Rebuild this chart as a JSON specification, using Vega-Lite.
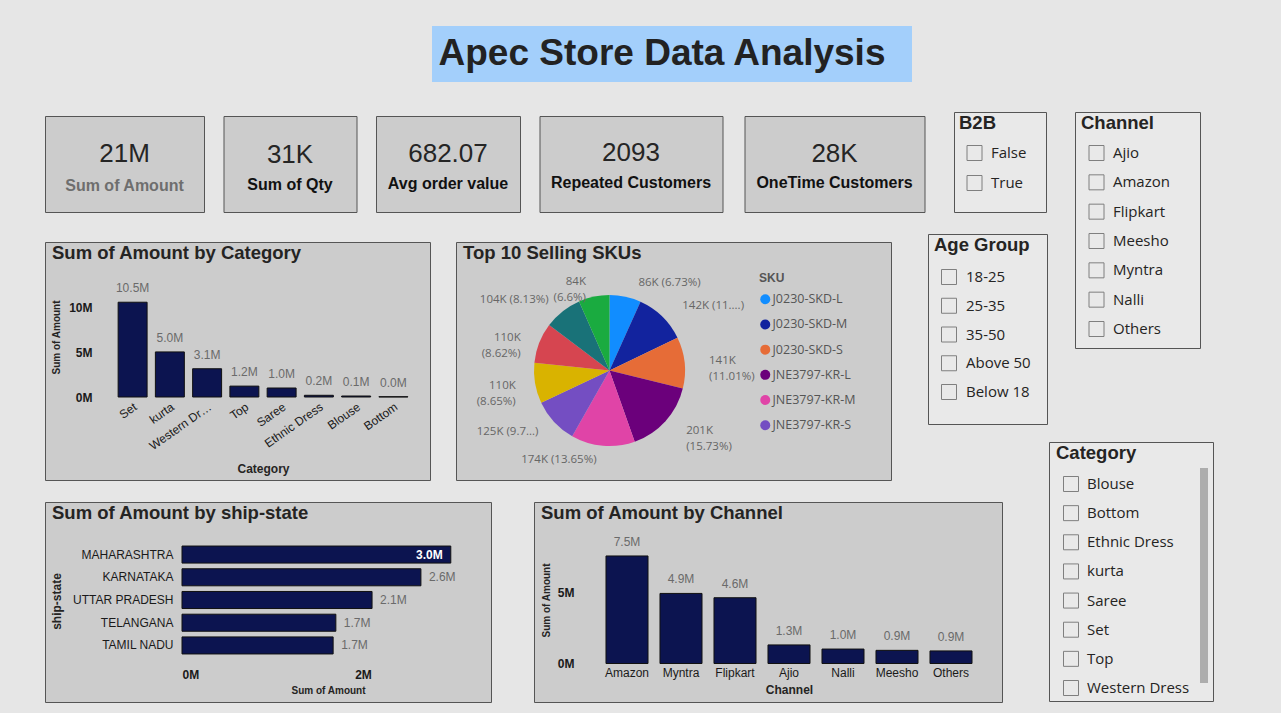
{
  "$schema": "https://vega.github.io/schema/vega-lite/v6.json",
  "background": "#e6e6e6",
  "padding": {"left": 44, "top": 26, "right": 70, "bottom": 15},
  "config": {
    "font": "Liberation Sans",
    "view": {"stroke": null},
    "axis": {"domain": false, "ticks": false, "grid": false, "minExtent": 0, "labelFont": "Liberation Sans", "titleFont": "Liberation Sans", "labelColor": "#1a1a1a", "titleColor": "#252423", "labelFontSize": 12, "titleFontWeight": "bold"},
    "title": {"anchor": "start", "frame": "group", "offset": -20, "dx": 7, "fontSize": 18.5, "font": "Liberation Sans", "fontWeight": "bold", "color": "#252423"}
  },
  "spacing": 0,
  "hconcat": [
    {
      "spacing": 29,
      "vconcat": [
        {
          "spacing": 0,
          "hconcat": [
            {"width": 387, "height": 56, "data": {"values": [{}]}, "mark": {"type": "rect", "fill": "transparent"}, "view": {"stroke": null}},
            {"width": 480, "height": 56, "view": {"fill": "#a3cffb", "stroke": null}, "data": {"values": [{"t": "Apec Store Data Analysis"}]}, "mark": {"type": "text", "fontSize": 37, "fontWeight": "bold", "color": "#222222", "baseline": "middle", "align": "center", "dx": -10}, "encoding": {"text": {"field": "t"}}}
          ]
        },
        {
          "spacing": 20,
          "vconcat": [
            {
              "spacing": 28,
              "hconcat": [
                {
                  "spacing": 0,
                  "vconcat": [
                    {"width": 1, "height": 3, "data": {"values": [{}]}, "mark": {"type": "rect", "fill": "transparent"}, "view": {"stroke": null}},
                    {
                      "spacing": 20.5,
                      "hconcat": [
                        {
                          "spacing": 17.5,
                          "hconcat": [
                            {"width": 159, "height": 96, "view": {"fill": "#cccccc", "stroke": "#555555", "strokeWidth": 1}, "data": {"values": [{"value": "21M", "label": "Sum of Amount"}]},
                             "layer": [
                               {"mark": {"type": "text", "fontSize": 26, "color": "#252525", "baseline": "middle"}, "encoding": {"text": {"field": "value"}, "y": {"datum": "value", "type": "nominal", "scale": {"type": "point", "domain": ["value", "label"], "range": [38, 70], "padding": 0}, "axis": null}}},
                               {"mark": {"type": "text", "fontSize": 16, "fontWeight": "bold", "color": "#6e6e6e", "baseline": "middle"}, "encoding": {"text": {"field": "label"}, "y": {"datum": "label", "type": "nominal"}}}
                             ]},
                            {"width": 133, "height": 96, "view": {"fill": "#cccccc", "stroke": "#555555", "strokeWidth": 1}, "data": {"values": [{"value": "31K", "label": "Sum of Qty"}]},
                             "layer": [
                               {"mark": {"type": "text", "fontSize": 26, "color": "#252525", "baseline": "middle"}, "encoding": {"text": {"field": "value"}, "y": {"datum": "value", "type": "nominal", "scale": {"type": "point", "domain": ["value", "label"], "range": [39, 69], "padding": 0}, "axis": null}}},
                               {"mark": {"type": "text", "fontSize": 16, "fontWeight": "bold", "color": "#111111", "baseline": "middle"}, "encoding": {"text": {"field": "label"}, "y": {"datum": "label", "type": "nominal"}}}
                             ]},
                            {"width": 144, "height": 96, "view": {"fill": "#cccccc", "stroke": "#555555", "strokeWidth": 1}, "data": {"values": [{"value": "682.07", "label": "Avg order value"}]},
                             "layer": [
                               {"mark": {"type": "text", "fontSize": 26, "color": "#252525", "baseline": "middle"}, "encoding": {"text": {"field": "value"}, "y": {"datum": "value", "type": "nominal", "scale": {"type": "point", "domain": ["value", "label"], "range": [38, 68], "padding": 0}, "axis": null}}},
                               {"mark": {"type": "text", "fontSize": 16, "fontWeight": "bold", "color": "#111111", "baseline": "middle"}, "encoding": {"text": {"field": "label"}, "y": {"datum": "label", "type": "nominal"}}}
                             ]},
                            {"width": 183, "height": 96, "view": {"fill": "#cccccc", "stroke": "#555555", "strokeWidth": 1}, "data": {"values": [{"value": "2093", "label": "Repeated Customers"}]},
                             "layer": [
                               {"mark": {"type": "text", "fontSize": 26, "color": "#252525", "baseline": "middle"}, "encoding": {"text": {"field": "value"}, "y": {"datum": "value", "type": "nominal", "scale": {"type": "point", "domain": ["value", "label"], "range": [37, 67], "padding": 0}, "axis": null}}},
                               {"mark": {"type": "text", "fontSize": 16, "fontWeight": "bold", "color": "#111111", "baseline": "middle"}, "encoding": {"text": {"field": "label"}, "y": {"datum": "label", "type": "nominal"}}}
                             ]}
                          ]
                        },
                        {"width": 180, "height": 96, "view": {"fill": "#cccccc", "stroke": "#555555", "strokeWidth": 1}, "data": {"values": [{"value": "28K", "label": "OneTime Customers"}]},
                         "layer": [
                           {"mark": {"type": "text", "fontSize": 26, "color": "#252525", "baseline": "middle"}, "encoding": {"text": {"field": "value"}, "y": {"datum": "value", "type": "nominal", "scale": {"type": "point", "domain": ["value", "label"], "range": [38, 67], "padding": 0}, "axis": null}}},
                           {"mark": {"type": "text", "fontSize": 16, "fontWeight": "bold", "color": "#111111", "baseline": "middle"}, "encoding": {"text": {"field": "label"}, "y": {"datum": "label", "type": "nominal"}}}
                         ]}
                      ]
                    }
                  ]
                },
                {"width": 92, "height": 100, "view": {"fill": "#e9e9e9", "stroke": "#555555", "strokeWidth": 1}, "title": {"text": "B2B", "dx": 5},
                 "data": {"values": [{"item": "False"}, {"item": "True"}]},
                 "encoding": {"y": {"field": "item", "type": "nominal", "sort": null, "scale": {"type": "point", "range": [41, 71], "padding": 0}, "axis": null}},
                 "layer": [
                   {"mark": {"type": "point", "shape": "square", "size": 225, "filled": false, "stroke": "#7f7f7f", "strokeWidth": 1, "opacity": 1}, "encoding": {"x": {"datum": "box", "type": "nominal", "scale": {"type": "point", "domain": ["box", "label"], "range": [20.5, 37], "padding": 0}, "axis": null}}},
                   {"mark": {"type": "text", "align": "left", "baseline": "middle", "font": "Open Sans", "fontSize": 15, "color": "#252423"}, "encoding": {"x": {"datum": "label", "type": "nominal"}, "text": {"field": "item"}}}
                 ]}
              ]
            },
            {
              "spacing": 35,
              "hconcat": [
                {
                  "spacing": 0,
                  "vconcat": [
                    {"width": 1, "height": 7, "data": {"values": [{}]}, "mark": {"type": "rect", "fill": "transparent"}, "view": {"stroke": null}},
                    {
                      "spacing": 24,
                      "hconcat": [
                        {
                          "width": 385, "height": 238,
                          "view": {"fill": "#cccccc", "stroke": "#555555", "strokeWidth": 1},
                          "title": "Sum of Amount by Category",
                          "data": {"values": [
                            {"category": "Set", "amount": 10530000, "label": "10.5M"},
                            {"category": "kurta", "amount": 5010000, "label": "5.0M"},
                            {"category": "Western Dress", "amount": 3140000, "label": "3.1M"},
                            {"category": "Top", "amount": 1210000, "label": "1.2M"},
                            {"category": "Saree", "amount": 1000000, "label": "1.0M"},
                            {"category": "Ethnic Dress", "amount": 190000, "label": "0.2M"},
                            {"category": "Blouse", "amount": 110000, "label": "0.1M"},
                            {"category": "Bottom", "amount": 30000, "label": "0.0M"}
                          ]},
                          "encoding": {
                            "x": {"field": "category", "type": "nominal", "sort": null, "scale": {"range": [69, 367], "paddingInner": 0.2225, "paddingOuter": 0.111},
                                  "axis": {"title": "Category", "labelAngle": -35, "labelLimit": 73, "labelPadding": 4, "offset": -83, "titleFontSize": 12, "titleX": 218, "titleY": 71, "titleBaseline": "middle"}},
                            "y": {"field": "amount", "type": "quantitative", "scale": {"domain": [0, 12000000], "range": [155, 47], "nice": false},
                                  "axis": {"values": [0, 5000000, 10000000], "labelExpr": "(datum.value / 1000000) + 'M'", "labelFontWeight": "bold", "offset": -53, "labelPadding": 6, "title": "Sum of Amount", "titleFontSize": 10, "titleX": -42, "titleY": 95, "titleBaseline": "middle"}}
                          },
                          "layer": [
                            {"mark": {"type": "bar", "fill": "#0c1450", "stroke": "#111111", "strokeWidth": 1}},
                            {"mark": {"type": "text", "baseline": "bottom", "dy": -7, "fontSize": 12, "color": "#6a6a6a"}, "encoding": {"text": {"field": "label"}}}
                          ]
                        },
                        {
                          "width": 435, "height": 238,
                          "view": {"fill": "#cccccc", "stroke": "#555555", "strokeWidth": 1},
                          "title": "Top 10 Selling SKUs",
                          "data": {"values": [
                            {"sku": "J0230-SKD-L", "amount": 86000, "label": "86K (6.73%)"},
                            {"sku": "J0230-SKD-M", "amount": 141800, "label": "142K (11....)"},
                            {"sku": "J0230-SKD-S", "amount": 140700, "label": ["141K", "(11.01%)"]},
                            {"sku": "JNE3797-KR-L", "amount": 201000, "label": ["201K", "(15.73%)"]},
                            {"sku": "JNE3797-KR-M", "amount": 174400, "label": "174K (13.65%)"},
                            {"sku": "JNE3797-KR-S", "amount": 124900, "label": "125K (9.7...)"},
                            {"sku": "JNE3797-KR-XL", "amount": 110500, "label": ["110K", "(8.65%)"]},
                            {"sku": "JNE3797-KR-XS", "amount": 110100, "label": ["110K", "(8.62%)"]},
                            {"sku": "JNE3797-KR-XXL", "amount": 103900, "label": "104K (8.13%)"},
                            {"sku": "SET268-KR-NP-S", "amount": 84300, "label": ["84K", "(6.6%)"]}
                          ]},
                          "encoding": {
                            "theta": {"field": "amount", "type": "quantitative", "stack": true},
                            "order": {"field": "sku", "type": "ordinal", "sort": "ascending"},
                            "x": {"datum": "c", "type": "nominal", "scale": {"type": "point", "domain": ["c"], "range": [153.5, 153.5]}, "axis": null},
                            "y": {"datum": "c", "type": "nominal", "scale": {"type": "point", "domain": ["c"], "range": [128.5, 128.5]}, "axis": null}
                          },
                          "layer": [
                            {"mark": {"type": "arc", "outerRadius": 75.5},
                             "encoding": {"color": {"field": "sku", "type": "nominal",
                               "scale": {"domain": ["J0230-SKD-L", "J0230-SKD-M", "J0230-SKD-S", "JNE3797-KR-L", "JNE3797-KR-M", "JNE3797-KR-S", "JNE3797-KR-XL", "JNE3797-KR-XS", "JNE3797-KR-XXL", "SET268-KR-NP-S"],
                                         "range": ["#118dff", "#12239e", "#e66c37", "#6b007b", "#e044a7", "#744ec2", "#d9b300", "#d64550", "#197278", "#1aab40"]},
                               "legend": {"title": "SKU", "orient": "none", "legendX": 714, "legendY": 247, "values": ["J0230-SKD-L", "J0230-SKD-M", "J0230-SKD-S", "JNE3797-KR-L", "JNE3797-KR-M", "JNE3797-KR-S"],
                                          "symbolType": "circle", "symbolSize": 100, "symbolStrokeWidth": 0, "symbolOpacity": 1, "titleFontSize": 12, "titleFont": "Liberation Sans", "titleFontWeight": "bold", "titleColor": "#555555",
                                          "labelFont": "Open Sans", "labelFontSize": 12.5, "labelColor": "#555555", "rowPadding": 12.2, "titlePadding": 8, "labelOffset": 1, "padding": 0}}}},
                            {"mark": {"type": "text", "radius": 90, "align": "left", "baseline": "middle", "dx": 10, "font": "Open Sans", "fontSize": 11.5, "lineHeight": 16, "color": "#666666"},
                             "encoding": {"detail": {"field": "sku"}, "text": {"condition": {"test": "indexof(['J0230-SKD-L','J0230-SKD-M','J0230-SKD-S','JNE3797-KR-L'], datum.sku) >= 0", "field": "label"}, "value": ""}}},
                            {"mark": {"type": "text", "radius": 90, "align": "right", "baseline": "middle", "dx": -5, "font": "Open Sans", "fontSize": 11.5, "lineHeight": 16, "color": "#666666"},
                             "encoding": {"detail": {"field": "sku"}, "text": {"condition": {"test": "indexof(['J0230-SKD-L','J0230-SKD-M','J0230-SKD-S','JNE3797-KR-L'], datum.sku) < 0", "field": "label"}, "value": ""}}}
                          ]
                        }
                      ]
                    }
                  ]
                },
                {"width": 119, "height": 190, "view": {"fill": "#e9e9e9", "stroke": "#555555", "strokeWidth": 1}, "title": {"text": "Age Group", "dx": 6},
                 "data": {"values": [{"item": "18-25"}, {"item": "25-35"}, {"item": "35-50"}, {"item": "Above 50"}, {"item": "Below 18"}]},
                 "encoding": {"y": {"field": "item", "type": "nominal", "sort": null, "scale": {"type": "point", "range": [43, 158], "padding": 0}, "axis": null}},
                 "layer": [
                   {"mark": {"type": "point", "shape": "square", "size": 225, "filled": false, "stroke": "#7f7f7f", "strokeWidth": 1, "opacity": 1}, "encoding": {"x": {"datum": "box", "type": "nominal", "scale": {"type": "point", "domain": ["box", "label"], "range": [21, 38], "padding": 0}, "axis": null}}},
                   {"mark": {"type": "text", "align": "left", "baseline": "middle", "font": "Open Sans", "fontSize": 15, "color": "#252423"}, "encoding": {"x": {"datum": "label", "type": "nominal"}, "text": {"field": "item"}}}
                 ]}
              ]
            },
            {
              "spacing": 41,
              "hconcat": [
                {
                  "width": 446, "height": 200,
                  "view": {"fill": "#cccccc", "stroke": "#555555", "strokeWidth": 1},
                  "title": "Sum of Amount by ship-state",
                  "data": {"values": [
                    {"state": "MAHARASHTRA", "amount": 2970000, "label": "3.0M"},
                    {"state": "KARNATAKA", "amount": 2640000, "label": "2.6M"},
                    {"state": "UTTAR PRADESH", "amount": 2100000, "label": "2.1M"},
                    {"state": "TELANGANA", "amount": 1700000, "label": "1.7M"},
                    {"state": "TAMIL NADU", "amount": 1670000, "label": "1.7M"}
                  ]},
                  "encoding": {
                    "y": {"field": "state", "type": "nominal", "sort": null, "scale": {"range": [41.2, 154.8], "paddingInner": 0.25, "paddingOuter": 0.125},
                          "axis": {"title": "ship-state", "offset": -132, "labelPadding": 4, "titleFontSize": 12, "titleX": -121, "titleY": 99, "titleBaseline": "middle"}},
                    "x": {"field": "amount", "type": "quantitative", "scale": {"domain": [0, 3000000], "range": [137, 408.5], "nice": false},
                          "axis": {"values": [0, 2000000], "labelExpr": "(datum.value / 1000000) + 'M'", "labelFontWeight": "bold", "offset": -40, "labelPadding": 7, "title": "Sum of Amount", "titleFontSize": 10, "titleX": 283, "titleY": 28, "titleBaseline": "middle"}}
                  },
                  "layer": [
                    {"mark": {"type": "bar", "fill": "#0c1450", "stroke": "#111111", "strokeWidth": 1}},
                    {"transform": [{"filter": "datum.amount >= 2900000"}], "mark": {"type": "text", "align": "right", "dx": -8, "baseline": "middle", "fontSize": 12, "fontWeight": "bold", "color": "#ffffff"}, "encoding": {"text": {"field": "label"}}},
                    {"transform": [{"filter": "datum.amount < 2900000"}], "mark": {"type": "text", "align": "left", "dx": 8, "baseline": "middle", "fontSize": 12, "color": "#6a6a6a"}, "encoding": {"text": {"field": "label"}}}
                  ]
                },
                {
                  "width": 468, "height": 200,
                  "view": {"fill": "#cccccc", "stroke": "#555555", "strokeWidth": 1},
                  "title": "Sum of Amount by Channel",
                  "data": {"values": [
                    {"channel": "Amazon", "amount": 7520000, "label": "7.5M"},
                    {"channel": "Myntra", "amount": 4900000, "label": "4.9M"},
                    {"channel": "Flipkart", "amount": 4600000, "label": "4.6M"},
                    {"channel": "Ajio", "amount": 1300000, "label": "1.3M"},
                    {"channel": "Nalli", "amount": 1010000, "label": "1.0M"},
                    {"channel": "Meesho", "amount": 920000, "label": "0.9M"},
                    {"channel": "Others", "amount": 880000, "label": "0.9M"}
                  ]},
                  "encoding": {
                    "x": {"field": "channel", "type": "nominal", "sort": null, "scale": {"range": [66, 444], "paddingInner": 0.222, "paddingOuter": 0.111},
                          "axis": {"title": "Channel", "labelAngle": 0, "labelPadding": 4, "offset": -38.5, "titleFontSize": 12, "titleX": 255, "titleY": 26, "titleBaseline": "middle"}},
                    "y": {"field": "amount", "type": "quantitative", "scale": {"domain": [0, 8000000], "range": [161.5, 47.1], "nice": false},
                          "axis": {"values": [0, 5000000], "labelExpr": "(datum.value / 1000000) + 'M'", "labelFontWeight": "bold", "offset": -46, "labelPadding": 6, "title": "Sum of Amount", "titleFontSize": 10, "titleX": -34, "titleY": 98, "titleBaseline": "middle"}}
                  },
                  "layer": [
                    {"mark": {"type": "bar", "fill": "#0c1450", "stroke": "#111111", "strokeWidth": 1}},
                    {"mark": {"type": "text", "baseline": "bottom", "dy": -7, "fontSize": 12, "color": "#6a6a6a"}, "encoding": {"text": {"field": "label"}}}
                  ]
                }
              ]
            }
          ]
        }
      ]
    },
    {
      "spacing": 0,
      "vconcat": [
        {"width": 1, "height": 85, "data": {"values": [{}]}, "mark": {"type": "rect", "fill": "transparent"}, "view": {"stroke": null}},
        {
          "spacing": 0,
          "hconcat": [
            {"width": 25, "height": 1, "data": {"values": [{}]}, "mark": {"type": "rect", "fill": "transparent"}, "view": {"stroke": null}},
            {"width": 125, "height": 236, "view": {"fill": "#e9e9e9", "stroke": "#555555", "strokeWidth": 1}, "title": {"text": "Channel", "dx": 6},
             "data": {"values": [{"item": "Ajio"}, {"item": "Amazon"}, {"item": "Flipkart"}, {"item": "Meesho"}, {"item": "Myntra"}, {"item": "Nalli"}, {"item": "Others"}]},
             "encoding": {"y": {"field": "item", "type": "nominal", "sort": null, "scale": {"type": "point", "range": [41, 217], "padding": 0}, "axis": null}},
             "layer": [
               {"mark": {"type": "point", "shape": "square", "size": 225, "filled": false, "stroke": "#7f7f7f", "strokeWidth": 1, "opacity": 1}, "encoding": {"x": {"datum": "box", "type": "nominal", "scale": {"type": "point", "domain": ["box", "label"], "range": [21.5, 38], "padding": 0}, "axis": null}}},
               {"mark": {"type": "text", "align": "left", "baseline": "middle", "font": "Open Sans", "fontSize": 15, "color": "#252423"}, "encoding": {"x": {"datum": "label", "type": "nominal"}, "text": {"field": "item"}}}
             ]}
          ]
        },
        {"width": 1, "height": 92, "data": {"values": [{}]}, "mark": {"type": "rect", "fill": "transparent"}, "view": {"stroke": null}},
        {"width": 164, "height": 259, "view": {"fill": "#e9e9e9", "stroke": "#555555", "strokeWidth": 1}, "title": {"text": "Category", "dx": 7},
         "layer": [
           {
             "data": {"values": [{"item": "Blouse"}, {"item": "Bottom"}, {"item": "Ethnic Dress"}, {"item": "kurta"}, {"item": "Saree"}, {"item": "Set"}, {"item": "Top"}, {"item": "Western Dress"}]},
             "encoding": {"y": {"field": "item", "type": "nominal", "sort": null, "scale": {"type": "point", "range": [42, 246], "padding": 0}, "axis": null}},
             "layer": [
               {"mark": {"type": "point", "shape": "square", "size": 225, "filled": false, "stroke": "#7f7f7f", "strokeWidth": 1, "opacity": 1}, "encoding": {"x": {"datum": "box", "type": "nominal", "scale": {"type": "point", "domain": ["box", "label"], "range": [22, 38], "padding": 0}, "axis": null}}},
               {"mark": {"type": "text", "align": "left", "baseline": "middle", "font": "Open Sans", "fontSize": 15, "color": "#252423"}, "encoding": {"x": {"datum": "label", "type": "nominal"}, "text": {"field": "item"}}}
             ]
           },
           {
             "data": {"values": [{"part": "scrollbar"}]},
             "mark": {"type": "rule", "color": "#adadad", "strokeWidth": 8},
             "encoding": {
               "x": {"datum": "scroll", "type": "nominal", "scale": {"type": "point", "domain": ["scroll"], "range": [155, 155]}, "axis": null},
               "y": {"datum": 0, "type": "quantitative", "scale": {"domain": [0, 1], "range": [26, 241]}, "axis": null},
               "y2": {"datum": 1}
             }
           }
         ],
         "resolve": {"scale": {"x": "independent", "y": "independent"}}
        }
      ]
    }
  ]
}
